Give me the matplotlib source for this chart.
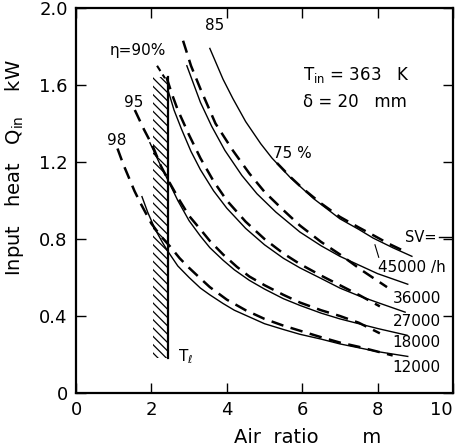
import matplotlib
matplotlib.use("Agg")
import matplotlib.pyplot as plt
from matplotlib.patches import Rectangle

plt.rcParams['font.family'] = ['DejaVu Sans']
plt.rcParams['hatch.linewidth'] = 0.9

# Solid lines: space velocity SV (1/h)
sv_labels = ["45000 /h", "36000", "27000", "18000", "12000"]
sv45_x = [3.55, 3.9, 4.16, 4.5, 4.9, 5.2, 5.68, 6.3, 7.0, 7.5, 7.88, 8.4, 8.91]
sv45_y = [1.79, 1.63, 1.53, 1.41, 1.295, 1.22, 1.12, 1.01, 0.905, 0.85, 0.805, 0.755, 0.71]
sv36_x = [2.94, 3.3, 3.6, 3.95, 4.4, 4.8, 5.3, 5.94, 6.5, 7.0, 7.5, 8.0, 8.8]
sv36_y = [1.70, 1.51, 1.385, 1.26, 1.13, 1.035, 0.94, 0.836, 0.765, 0.71, 0.665, 0.62, 0.565]
sv27_x = [2.44, 2.6, 2.8, 3.05, 3.3, 3.65, 4.0, 4.5, 5.0, 5.5, 5.94, 6.5, 7.0, 7.5, 8.0, 8.73]
sv27_y = [1.574, 1.47, 1.37, 1.255, 1.16, 1.05, 0.96, 0.855, 0.77, 0.70, 0.65, 0.595, 0.545, 0.505, 0.47, 0.42]
sv18_x = [1.96, 2.2, 2.44, 2.7, 3.0, 3.3, 3.55, 3.9, 4.2, 4.6, 5.0, 5.5, 5.94, 6.5, 7.0, 7.5, 8.0, 8.78]
sv18_y = [1.30, 1.20, 1.105, 1.0, 0.895, 0.815, 0.755, 0.69, 0.64, 0.585, 0.54, 0.49, 0.455, 0.415, 0.385, 0.36, 0.335, 0.30]
sv12_x = [1.75, 1.9, 2.1, 2.3, 2.44, 2.7, 3.0, 3.3, 3.55, 3.9, 4.2, 4.6, 5.0, 5.5, 5.94, 6.5, 7.0, 7.5, 8.0, 8.8]
sv12_y = [1.02, 0.94, 0.85, 0.78, 0.735, 0.66, 0.60, 0.545, 0.51, 0.465, 0.43, 0.395, 0.36, 0.33, 0.305, 0.28, 0.255, 0.235, 0.215, 0.19]

# Dashed lines: efficiency eta (%)
eta_labels = ["75 %", "85", "η=90%", "95", "98"]
e75_x = [5.33, 5.7, 6.0, 6.5, 7.0, 7.5, 7.9, 8.3, 8.78]
e75_y = [1.195, 1.12, 1.065, 0.985, 0.915, 0.86, 0.818, 0.775, 0.73]
e85_x = [2.84, 3.05, 3.3, 3.7, 4.16, 4.6, 5.0, 5.5, 5.94, 6.5, 7.0, 7.6, 8.25]
e85_y = [1.83, 1.70, 1.58, 1.40, 1.26, 1.14, 1.045, 0.95, 0.87, 0.785, 0.72, 0.635, 0.55]
e90_x = [2.4, 2.55, 2.7, 3.0, 3.3, 3.65, 4.0, 4.5, 5.0, 5.5, 5.94, 6.5, 7.0, 7.5, 8.06]
e90_y = [1.64, 1.55, 1.47, 1.34, 1.22, 1.10, 1.0, 0.89, 0.80, 0.725, 0.67, 0.61, 0.56, 0.51, 0.45]
e95_x = [1.56, 1.8, 2.04, 2.25, 2.49, 2.75, 3.0, 3.3, 3.55, 3.9, 4.27, 4.6, 5.0, 5.5, 5.94, 6.5, 7.0, 7.5, 8.06]
e95_y = [1.47, 1.37, 1.28, 1.18, 1.09, 1.0, 0.92, 0.85, 0.79, 0.72, 0.655, 0.605, 0.56, 0.51, 0.47, 0.43, 0.40, 0.365, 0.31]
e98_x = [1.1, 1.25, 1.4, 1.55, 1.7, 1.85, 2.0, 2.25, 2.5, 2.75, 3.0, 3.3, 3.55, 4.0, 4.5, 5.0, 5.5, 6.0, 6.5, 7.0, 7.5, 8.0, 8.4]
e98_y = [1.27, 1.19, 1.12, 1.05, 0.99, 0.935, 0.88, 0.815, 0.76, 0.70, 0.65, 0.595, 0.55, 0.485, 0.43, 0.385, 0.35, 0.32, 0.29, 0.262, 0.24, 0.215, 0.195]

# T_l limit band
band_x = [2.04, 2.44]
band_y = [0.18, 1.64]

xticks = [0, 2, 4, 6, 8, 10]
yticks = [0, 0.4, 0.8, 1.2, 1.6, 2.0]
yticklabels = ["0", "0.4", "0.8", "1.2", "1.6", "2.0"]

fig = plt.figure(figsize=(4.62, 4.48), dpi=100)
ax = fig.add_axes([76/462, 1-393/448, (453-76)/462, (393-8)/448])
ax.set_xlim(0, 10)
ax.set_ylim(0, 2.0)

solid_kw = dict(color='black', lw=1.0)
dash_kw = dict(color='black', lw=1.8, dashes=(5, 3))
for xs, ys in [(sv45_x, sv45_y), (sv36_x, sv36_y), (sv27_x, sv27_y),
               (sv18_x, sv18_y), (sv12_x, sv12_y)]:
    ax.plot(xs, ys, **solid_kw)
for xs, ys in [(e75_x, e75_y), (e85_x, e85_y), (e90_x, e90_y),
               (e95_x, e95_y), (e98_x, e98_y)]:
    ax.plot(xs, ys, **dash_kw)

ax.add_patch(Rectangle((band_x[0], band_y[0]), band_x[1]-band_x[0], band_y[1]-band_y[0],
                       facecolor='none', edgecolor='black', lw=0, hatch='\\\\\\\\'))
ax.plot([band_x[1], band_x[1]], band_y, color='black', lw=1.6)

fs = 11
# eta labels
ax.text(5.23, 1.245, eta_labels[0], fontsize=fs, ha='left', va='center')
ax.text(3.69, 1.91, eta_labels[1], fontsize=fs, ha='center', va='center')
ax.text(1.65, 1.78, eta_labels[2], fontsize=fs, ha='center', va='center')
ax.text(1.54, 1.51, eta_labels[3], fontsize=fs, ha='center', va='center')
ax.text(1.09, 1.31, eta_labels[4], fontsize=fs, ha='center', va='center')
ax.plot([2.15, 2.36], [1.70, 1.635], color='black', lw=1.5, dashes=(3, 2))

# SV labels
ax.text(8.73, 0.81, "SV=", fontsize=10.5, ha='left', va='center')
ax.plot([9.62, 10.0], [0.81, 0.81], color='black', lw=1.0)
ax.text(8.0, 0.65, sv_labels[0], fontsize=fs, ha='left', va='center')
ax.plot([8.03, 7.93], [0.705, 0.77], color='black', lw=0.8)
for lab, yy in zip(sv_labels[1:], [0.49, 0.37, 0.26, 0.135]):
    ax.text(8.4, yy, lab, fontsize=fs, ha='left', va='center')

ax.text(6.02, 1.65, r"T$_{\mathrm{in}}$ = 363   K", fontsize=fs+1, ha='left', va='center')
ax.text(6.02, 1.51, "δ = 20   mm", fontsize=fs+1, ha='left', va='center')
ax.text(2.7, 0.19, r"T$_{\ell}$", fontsize=fs, ha='left', va='center')

ax.set_xticks(xticks)
ax.set_xticklabels([str(t) for t in xticks])
ax.set_yticks(yticks)
ax.set_yticklabels(yticklabels)
ax.tick_params(direction='in', length=7, width=1.0, top=True, right=True,
               labelsize=13, pad=6)
ax.get_xticklabels()[-1].set_horizontalalignment('right')
ax.get_xticklabels()[-1].set_x(10.15)
for s in ax.spines.values():
    s.set_linewidth(1.6)

fig.text(308/462, 1-437/448, "Air  ratio       m", fontsize=14, ha='center', va='center')
fig.text(15/462, 1-168/448, r"Input   heat   Q$_{\mathrm{in}}$    kW", fontsize=14,
         ha='center', va='center', rotation=90)

fig.savefig("out.png", dpi=100)
